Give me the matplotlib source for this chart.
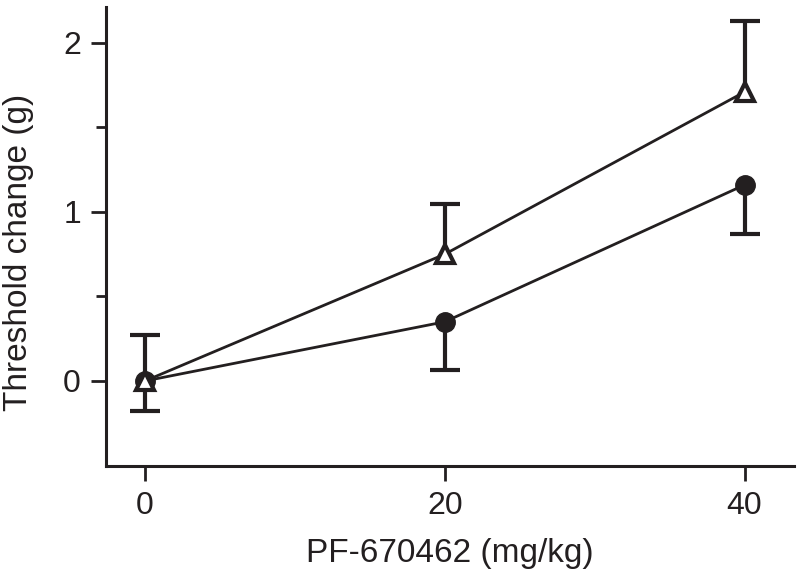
import matplotlib.pyplot as plt

plt.rcParams['font.family'] = ['Liberation Sans', 'DejaVu Sans']

dose = [0, 20, 40]
circle_mean = [0.0, 0.35, 1.16]
circle_err_low = [0.18, 0.285, 0.29]
triangle_mean = [0.0, 0.75, 1.71]
triangle_err_up = [0.27, 0.30, 0.42]

ink = '#231f20'

fig = plt.figure(figsize=(8, 5.81), dpi=100)
ax = fig.add_axes([0.1325, 0.198, 0.86, 0.79])

# one-sided error bars: stem plus a cap at the far end
circle_low = [m - e for m, e in zip(circle_mean, circle_err_low)]
triangle_up = [m + e for m, e in zip(triangle_mean, triangle_err_up)]

ax.vlines(dose, circle_low, circle_mean, color=ink, linewidth=3, zorder=2)
ax.plot(dose, circle_low, linestyle='none', marker='_', markersize=22,
        markeredgewidth=3, color=ink, zorder=2)
ax.vlines(dose, triangle_mean, triangle_up, color=ink, linewidth=3, zorder=2)
ax.plot(dose, triangle_up, linestyle='none', marker='_', markersize=22,
        markeredgewidth=3, color=ink, zorder=2)

ax.plot(dose, circle_mean, color=ink, linewidth=2, marker='o',
        markersize=14, markerfacecolor=ink, markeredgecolor=ink, zorder=3)
ax.plot(dose, triangle_mean, color=ink, linewidth=2, marker='^',
        markersize=13, markerfacecolor='white', markeredgecolor=ink,
        markeredgewidth=3, zorder=4)

ax.set_xlim(-2.6, 43.3)
ax.set_ylim(-0.503, 2.213)
ax.set_xticks([0, 20, 40])
ax.set_yticks([0, 1, 2])
ax.set_yticks([0.5, 1.5], minor=True)

ax.spines['top'].set_visible(False)
ax.spines['right'].set_visible(False)
for s in ['left', 'bottom']:
    ax.spines[s].set_linewidth(2.2)
    ax.spines[s].set_color(ink)
ax.tick_params(direction='out', length=11, width=2, color=ink,
               labelsize=23, labelcolor=ink, pad=7)
ax.tick_params(axis='y', which='minor', direction='out', length=7, width=2, color=ink)

ax.set_xlabel('PF-670462 (mg/kg)', fontsize=24, color=ink, labelpad=12)
ax.set_ylabel('Threshold change (g)', fontsize=24, color=ink)
ax.yaxis.set_label_coords(-0.105, 0.465)

fig.savefig('out.png', dpi=100)
